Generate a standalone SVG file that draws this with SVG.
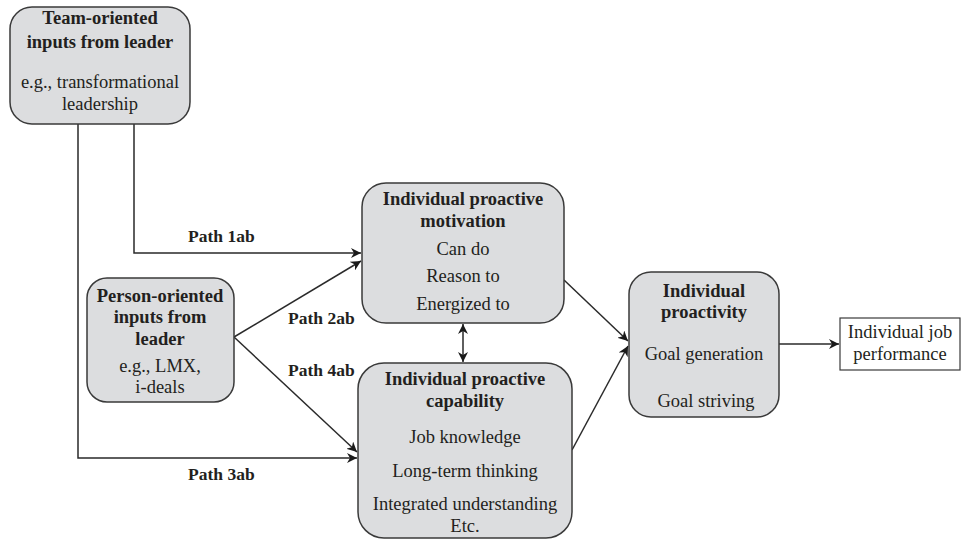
<svg xmlns="http://www.w3.org/2000/svg" width="961" height="542" viewBox="0 0 961 542" font-family="'Liberation Serif', 'DejaVu Serif', serif">
<style>
.box{fill:#dcdddf;stroke:#3a3a3a;stroke-width:1.5}
.wbox{fill:#fff;stroke:#3a3a3a;stroke-width:1.2}
text{font-family:'Liberation Serif','DejaVu Serif',serif;font-size:18.5px;fill:#231f20;text-anchor:middle}
.b{font-weight:bold}
.l{text-anchor:start;font-size:17.5px}
.c{fill:none;stroke:#2a2a2a;stroke-width:1.5}
</style>
<defs>
<marker id="ah" viewBox="0 0 10 10" refX="10" refY="5" markerWidth="10" markerHeight="10" markerUnits="userSpaceOnUse" orient="auto-start-reverse">
<path d="M0,0 L10,5 L0,10 L3,5 z" fill="#1a1a1a"/>
</marker>
</defs>
<g id="connectors">
<path class="c" d="M78,124 V458 H357" marker-end="url(#ah)"/>
<path class="c" d="M134,124 V253 H361" marker-end="url(#ah)"/>
<path class="c" d="M234,337 L361,261" marker-end="url(#ah)"/>
<path class="c" d="M234,337 L357,452" marker-end="url(#ah)"/>
<path class="c" d="M463,324 V362" marker-start="url(#ah)" marker-end="url(#ah)"/>
<path class="c" d="M564,280 L628,341" marker-end="url(#ah)"/>
<path class="c" d="M572,450 L628,346" marker-end="url(#ah)"/>
<path class="c" d="M779,344 H839" marker-end="url(#ah)"/>
<text class="b l" x="188" y="242">Path 1ab</text>
<text class="b l" x="288" y="324">Path 2ab</text>
<text class="b l" x="288" y="376">Path 4ab</text>
<text class="b l" x="188" y="480">Path 3ab</text>
</g>
<g id="team">
<rect class="box" x="10" y="7" width="180" height="117" rx="22"/>
<text class="b" x="100" y="24">Team-oriented</text>
<text class="b" x="100" y="48">inputs from leader</text>
<text x="100" y="88">e.g., transformational</text>
<text x="100" y="110">leadership</text>
</g>
<g id="person">
<rect class="box" x="87" y="278" width="147" height="124" rx="20"/>
<text class="b" x="160" y="302">Person-oriented</text>
<text class="b" x="160" y="323">inputs from</text>
<text class="b" x="160" y="345">leader</text>
<text x="160" y="372">e.g., LMX,</text>
<text x="160" y="393">i-deals</text>
</g>
<g id="motivation">
<rect class="box" x="362" y="183" width="202" height="140" rx="24"/>
<text class="b" x="463" y="205">Individual proactive</text>
<text class="b" x="463" y="227">motivation</text>
<text x="463" y="255">Can do</text>
<text x="463" y="282">Reason to</text>
<text x="463" y="310">Energized to</text>
</g>
<g id="capability">
<rect class="box" x="358" y="363" width="214" height="175" rx="26"/>
<text class="b" x="465" y="385">Individual proactive</text>
<text class="b" x="465" y="407">capability</text>
<text x="465" y="443">Job knowledge</text>
<text x="465" y="477">Long-term thinking</text>
<text x="465" y="510">Integrated understanding</text>
<text x="465" y="532">Etc.</text>
</g>
<g id="proactivity">
<rect class="box" x="629" y="272" width="150" height="145" rx="22"/>
<text class="b" x="704" y="297">Individual</text>
<text class="b" x="704" y="318">proactivity</text>
<text x="704" y="360">Goal generation</text>
<text x="706" y="407">Goal striving</text>
</g>
<g id="performance">
<rect class="wbox" x="840" y="318" width="120" height="52"/>
<text x="900" y="338">Individual job</text>
<text x="900" y="360">performance</text>
</g>
</svg>
